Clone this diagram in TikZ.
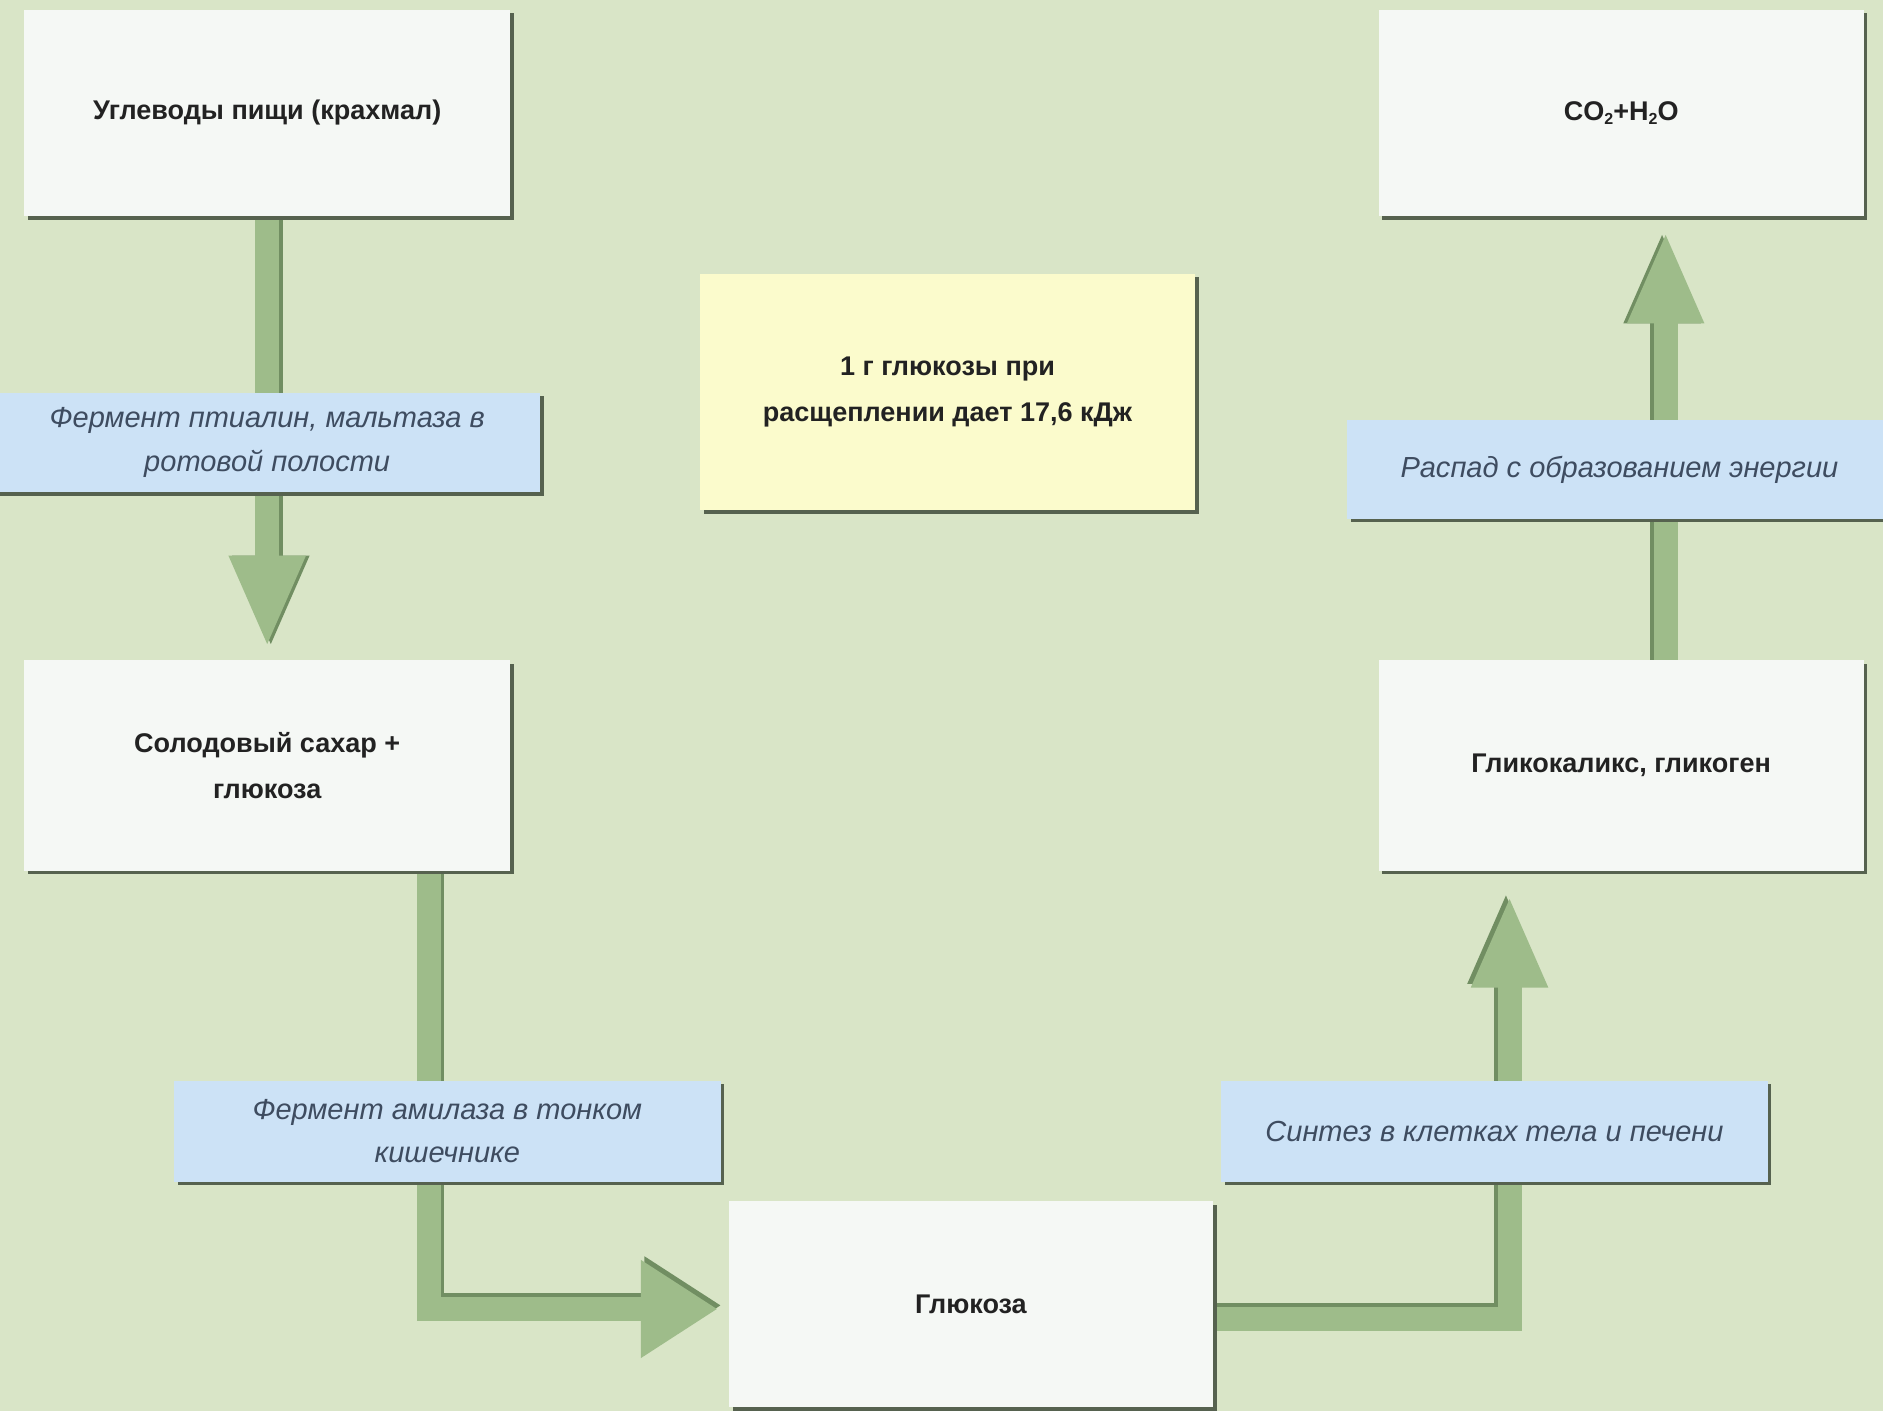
\documentclass[tikz,border=0pt]{standalone}
\usepackage{fontspec}
\setmainfont{Liberation Sans}
\usetikzlibrary{arrows.meta,shadows}
\pgfdeclarelayer{bg}
\pgfsetlayers{bg,main}
\definecolor{bgc}{HTML}{D9E5C7}
\definecolor{boxc}{HTML}{F5F8F5}
\definecolor{labc}{HTML}{CCE2F6}
\definecolor{yelc}{HTML}{FBFBCC}
\definecolor{shc}{HTML}{56624F}
\definecolor{arrc}{HTML}{9EBC8A}
\definecolor{arrd}{HTML}{718E62}
\definecolor{txtc}{HTML}{222222}
\definecolor{labtxt}{HTML}{3E4C60}
\newcommand\chemsub[1]{\raisebox{-0.3ex}{\fontsize{8}{8}\selectfont #1}}
\begin{document}
\begin{tikzpicture}[x=0.6pt,y=-0.6pt,
  sh/.style={drop shadow={shadow xshift=1.8pt,shadow yshift=-1.8pt,fill=shc,opacity=1}},
  whitebox/.style={rectangle,fill=boxc,sh,inner sep=0pt,align=center,
    font=\bfseries\fontsize{13.5}{23}\selectfont,text=txtc},
  yelbox/.style={whitebox,fill=yelc},
  labbox/.style={rectangle,fill=labc,sh,inner sep=0pt,align=center,
    font=\itshape\fontsize{14.5}{21.6}\selectfont,text=labtxt},
  fat/.style={line width=12pt,draw=arrc,line join=miter,
    -{Triangle[width=34.8pt,length=46.2pt]}},
  fatdark/.style={fat,draw=arrd},
]
\useasboundingbox (0,0) rectangle (1568,1175);

% nodes
\node[whitebox,minimum width=243pt,minimum height=103.2pt] (A) at (222.5,94)
  {Углеводы пищи (крахмал)};
\node[whitebox,minimum width=243pt,minimum height=105pt] (B) at (222.5,637.5)
  {Солодовый сахар +\\глюкоза};
\node[whitebox,minimum width=241.8pt,minimum height=103.2pt] (C) at (808.5,1086)
  {Глюкоза};
\node[whitebox,minimum width=242.4pt,minimum height=105pt] (D) at (1350,637.5)
  {Гликокаликс, гликоген};
\node[whitebox,minimum width=242.4pt,minimum height=103.2pt] (E) at (1350,94)
  {CO\chemsub{2}+H\chemsub{2}O};
\node[yelbox,minimum width=247.2pt,minimum height=118.2pt] (Y) at (789,326.5)
  {1 г глюкозы при\\расщеплении дает 17,6 кДж};
\node[labbox,minimum width=273pt,minimum height=49.8pt] (L1) at (222.5,368.5)
  {Фермент птиалин, мальтаза в\\ротовой полости};
\node[labbox,minimum width=273pt,minimum height=50.4pt] (L2) at (372.5,942)
  {Фермент амилаза в тонком\\кишечнике};
\node[labbox,minimum width=273pt,minimum height=50.4pt] (L3) at (1244.5,942)
  {Синтез в клетках тела и печени};
\node[labbox,minimum width=271.8pt,minimum height=49.2pt] (L4) at (1348.5,391)
  {Распад с образованием энергии};

% background and arrows (behind nodes)
\begin{pgfonlayer}{bg}
  \fill[bgc] (0,0) rectangle (1568,1175);
  % A -> B
  \draw[fatdark,shorten >=6pt,transform canvas={xshift=1.8pt}] (A.south) -- (B.north);
  \draw[fat,shorten >=6pt] (A.south) -- (B.north);
  % B -> C
  \draw[fatdark,shorten >=5.4pt,-{Triangle[width=46.2pt,length=38.4pt]},
        transform canvas={xshift=1.8pt,yshift=1.8pt}]
        ([xshift=80.7pt]B.south) |- ([yshift=-2.4pt]C.west);
  \draw[fat,shorten >=5.4pt,-{Triangle[width=46.2pt,length=38.4pt]}]
        ([xshift=80.7pt]B.south) |- ([yshift=-2.4pt]C.west);
  % C -> D
  \draw[fatdark,shorten >=12pt,transform canvas={xshift=-1.8pt,yshift=1.8pt}]
        ([yshift=-7.2pt]C.east) -| ([xshift=-55.8pt]D.south);
  \draw[fat,shorten >=12pt]
        ([yshift=-7.2pt]C.east) -| ([xshift=-55.8pt]D.south);
  % D -> E
  \draw[fatdark,shorten >=7.2pt,transform canvas={xshift=-1.8pt}]
        ([xshift=22.2pt]D.north) -- ([xshift=22.2pt]E.south);
  \draw[fat,shorten >=7.2pt]
        ([xshift=22.2pt]D.north) -- ([xshift=22.2pt]E.south);
\end{pgfonlayer}
\end{tikzpicture}
\end{document}
